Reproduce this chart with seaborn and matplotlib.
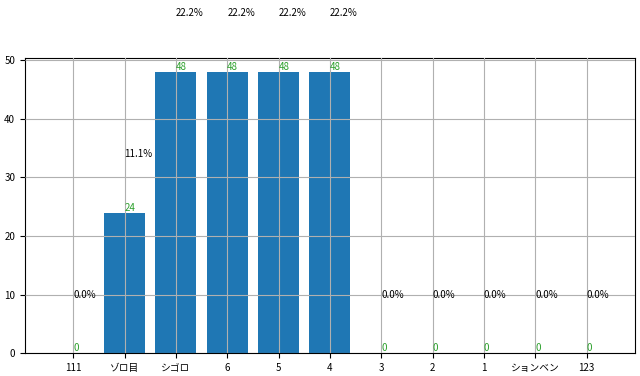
import pandas as pd
import matplotlib.pyplot as plt
import seaborn as sns

categories = ['111', 'ゾロ目', 'シゴロ', '6', '5', '4', '3', '2', '1', 'ションベン', '123']
counts = [0, 24, 48, 48, 48, 48, 0, 0, 0, 0, 0]

df = pd.DataFrame({'role': categories, 'count': counts})
total = sum(counts)

plt.rcParams['font.family'] = ['Noto Sans CJK JP', 'DejaVu Sans']
plt.rcParams['font.size'] = 7

fig, ax = plt.subplots(figsize=(6.4, 3.76), dpi=100)
sns.barplot(data=df, x='role', y='count', color='#1f77b4', saturation=1, width=0.8, ax=ax)
ax.set_xlim(-0.94, 10.94)
ax.set_ylim(0, 50.4)

# count + share labels
for i, c in enumerate(counts):
    ax.text(i, c, str(c), color='tab:green', ha='left', va='bottom', fontsize=7)
    ax.text(i, c + 10, '{:.1f}%'.format(c / total * 100), color='black', ha='left', va='center', fontsize=7)

ax.grid(True, color='#b0b0b0', linewidth=0.8)
ax.set_axisbelow(False)
ax.set_xlabel('')
ax.set_ylabel('')
ax.tick_params(labelsize=7)

plt.subplots_adjust(left=0.039, right=0.992, top=0.846, bottom=0.061)
plt.savefig('out.png')
